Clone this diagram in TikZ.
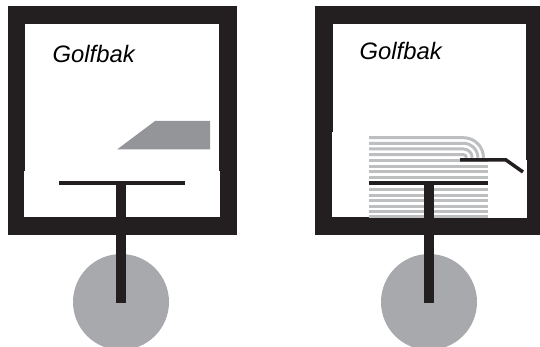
\documentclass[tikz,border=0pt]{standalone}
\usepackage{fontspec}
\setmainfont{Liberation Sans}
\usepackage{xcolor}
\definecolor{frameblack}{HTML}{231F20}
\definecolor{ballgray}{HTML}{A7A9AC}
\definecolor{clubgray}{HTML}{939598}
\definecolor{stripegray}{HTML}{BCBEC0}
\tikzset{
  frame/.style={fill=frameblack},
  gap/.style={fill=white},
  ball/.style={fill=ballgray},
  bar/.style={draw=frameblack,line width=3.8pt},
  stem/.style={draw=frameblack,line width=10pt},
  stripe/.style={draw=stripegray,line width=3pt},
  baglabel/.style={font=\fontsize{23.8}{28}\selectfont\itshape,text=black,inner sep=0pt,anchor=base west}
}
\begin{document}
\begin{tikzpicture}[x=1pt,y=-1pt]
  \useasboundingbox (0,0) rectangle (540,347);
  \clip (0,0) rectangle (540,347);
  % left bag
  \fill[frame] (7.5,6) rectangle (237,235);
  \fill[gap] (25,24) rectangle (218.5,217.5);
  \fill[gap] (24,171) rectangle (219.5,217.5);
  \node[baglabel] (labelA) at (52.5,62.5) {Golfbak};
  \fill[clubgray] (117,149.5) -- (155,121) -- (210,121) -- (210,149.5) -- cycle;
  \fill[ball] (121,302) circle (48);
  \draw[bar] (59,183) -- (185,183);
  \draw[stem] (121,183) -- (121,303);
  % right bag
  \fill[frame] (315,6) rectangle (540,235);
  \fill[gap] (332.5,24) rectangle (526,217.5);
  \fill[gap] (331.5,132) rectangle (526,217.5);
  \fill[gap] (488,160) rectangle (527,218.5);
  \node[baglabel] (labelB) at (359.5,60) {Golfbak};
  \foreach \y/\r in {137.7/20,143.3/14.4,149/8.7,154.7/3}
    \draw[stripe] (369,\y) -- (463.5,\y) arc (-90:0:\r);
  \foreach \y in {160.7,166.3,172,177.7,189.5,195.3,201,206.5,212,216.5}
    \draw[stripe] (369,\y) -- (488,\y);
  \fill[ball] (429,302) circle (48);
  \draw[bar] (369,183) -- (488,183);
  \draw[stem] (429,183) -- (429,303);
  \draw[bar,line width=3.5pt] (460,160) -- (506,160) -- (523,172);
\end{tikzpicture}
\end{document}
